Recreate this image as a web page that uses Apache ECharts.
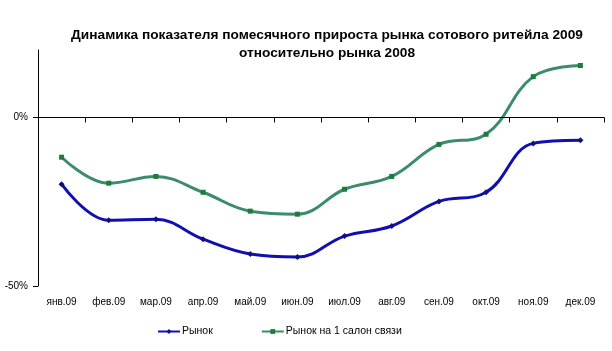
<!DOCTYPE html>
<html><head><meta charset="utf-8">
<script src="https://cdn.jsdelivr.net/npm/echarts@6/dist/echarts.min.js"></script>
<style>html,body{margin:0;padding:0;background:#fff}#c{width:612px;height:351px}</style>
</head><body><div id="c"></div>
<script>
const categories = ['янв.09','фев.09','мар.09','апр.09','май.09','июн.09','июл.09','авг.09','сен.09','окт.09','ноя.09','дек.09'];
const market = [-19.8,-30.5,-30.2,-36.1,-40.5,-41.4,-35.2,-32.2,-24.9,-22.2,-7.7,-6.8];
const marketPerStore = [-11.8,-19.5,-17.5,-22.2,-27.8,-28.7,-21.3,-17.5,-8.0,-5.0,12.1,15.4];
const yTickLabels = {'-50':'-50%','0':'0%'};

const font = 'Liberation Sans, Arial, sans-serif';
const chart = echarts.init(document.getElementById('c'));
chart.setOption({
  animation:false,
  backgroundColor:'#fff',
  title:{
    text:'Динамика показателя помесячного прироста рынка сотового ритейла 2009\nотносительно рынка 2008',
    left:322, top:21, textAlign:'center',
    textStyle:{fontFamily:font,fontSize:13.7,fontWeight:'bold',color:'#000',lineHeight:18}
  },
  legend:{
    top:321, left:152, itemGap:48, itemWidth:22, itemHeight:6,
    textStyle:{fontFamily:font,fontSize:10.5,color:'#000',padding:[0,0,0,-3]},
    data:['Рынок','Рынок на 1 салон связи']
  },
  grid:{left:38,right:8,top:50,bottom:65},
  xAxis:{
    type:'category', data:categories, boundaryGap:true,
    axisLine:{lineStyle:{color:'#000',width:1}},
    axisTick:{show:true,length:5,lineStyle:{color:'#000'}},
    axisLabel:{fontFamily:font,fontSize:10,color:'#000',margin:11}
  },
  yAxis:{
    type:'value', min:-50, max:20, interval:50,
    axisLine:{show:true,lineStyle:{color:'#000',width:1}},
    axisTick:{show:true,length:5,lineStyle:{color:'#000'},
      customValues:[-50,0]},
    splitLine:{show:false},
    axisLabel:{fontFamily:font,fontSize:10,color:'#000',margin:10,
      customValues:[-50,0],
      formatter:v=>yTickLabels[String(v)]||''}
  },
  series:[
    {name:'Рынок',type:'line',data:market,smooth:0.4,
      symbol:'diamond',symbolSize:6,
      lineStyle:{color:'#1010b0',width:3},
      itemStyle:{color:'#101080'},
      markLine:{silent:true,symbol:'none',label:{show:false},
        lineStyle:{color:'#000',width:1,type:'solid'},data:[{yAxis:0}]}
    },
    {name:'Рынок на 1 салон связи',type:'line',data:marketPerStore,smooth:0.4,
      symbol:'rect',symbolSize:5,
      lineStyle:{color:'#3c8c6c',width:3},
      itemStyle:{color:'#1e7a3e'}
    }
  ]
});
</script></body></html>
